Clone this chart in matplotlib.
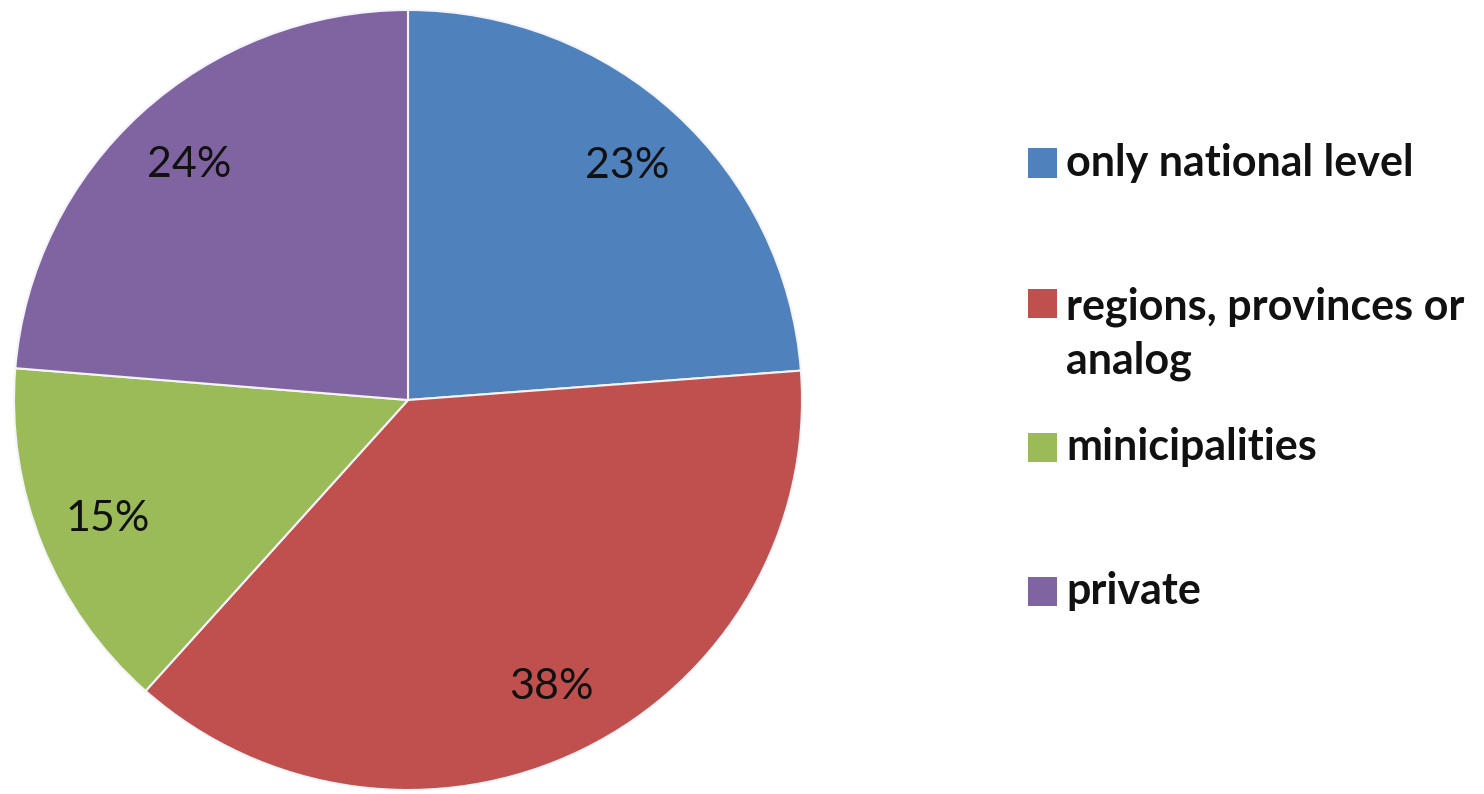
import matplotlib
matplotlib.use("Agg")
import matplotlib.pyplot as plt
from matplotlib.patches import Rectangle

# Data
categories = ["only national level", "regions, provinces or analog", "minicipalities", "private"]
legend_labels = ["only national level", "regions, provinces or\nanalog", "minicipalities", "private"]
shares = [23.8, 37.8, 14.7, 23.7]
pct_labels = ["23%", "38%", "15%", "24%"]
colors = ["#4F81BD", "#C0504D", "#9BBB59", "#8064A2"]

W, H = 1484, 794
fig = plt.figure(figsize=(W / 100, H / 100), dpi=100)
fig.patch.set_facecolor("white")

FONT = "Lato"

# pie axes placed in pixel coordinates
cx, cy, rx, ry = 408, 400, 394, 390
ax = fig.add_axes([(cx - rx) / W, (H - cy - ry) / H, 2 * rx / W, 2 * ry / H])
wedges, texts = ax.pie(
    shares, colors=colors, startangle=90, counterclock=False,
    labels=pct_labels, labeldistance=0.82,
    wedgeprops=dict(edgecolor="#f4f4fa", linewidth=1.5),
    textprops=dict(fontsize=31, family=FONT, color="#111111", ha="center", va="center"),
)
for t in texts:
    t.set_ha("center")
    t.set_va("center")
ax.set_aspect("auto")
ax.set_xlim(-1, 1)
ax.set_ylim(-1, 1)
ax.axis("off")

# manual legend (pixel layout)
row_y = [163, 304, 447, 591]
sq_x, sq = 1028, 29
text_x = 1066
line_px = 60
for lab, col, y in zip(legend_labels, colors, row_y):
    fig.patches.append(Rectangle((sq_x / W, (H - y - sq / 2) / H), sq / W, sq / H,
                                 transform=fig.transFigure, facecolor=col, edgecolor="none"))
    nlines = lab.count("\n") + 1
    ty = y + (nlines - 1) * line_px / 2
    fig.text(text_x / W, (H - ty) / H, lab, fontsize=31, family=FONT, fontweight="bold",
             color="#111111", ha="left", va="center", linespacing=1.42)

fig.savefig("out.png", dpi=100, facecolor="white")
